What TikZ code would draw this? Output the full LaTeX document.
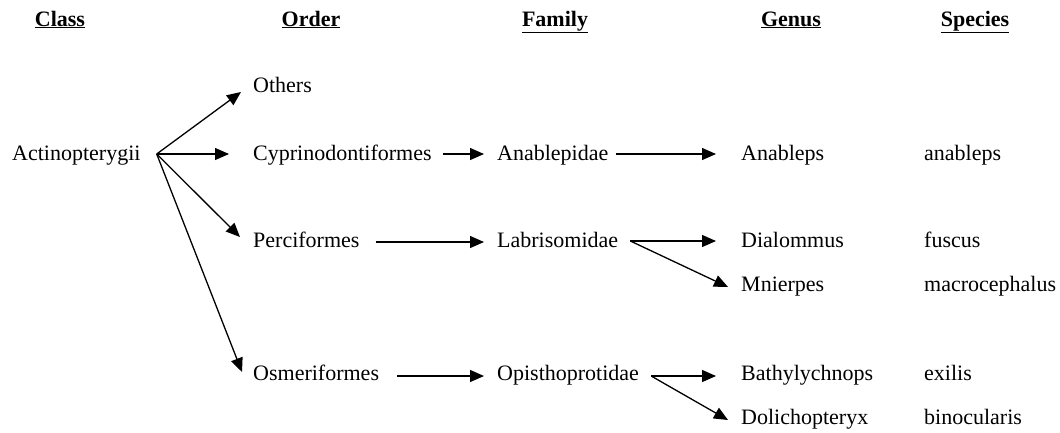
\documentclass[tikz,border=0pt]{standalone}
\usepackage{fontspec}
\setmainfont{Liberation Serif}
\usetikzlibrary{arrows.meta,calc}
\begin{document}
\begin{tikzpicture}[x=1pt,y=-1pt,
  lbl/.style={anchor=base west,inner sep=0pt,font=\fontsize{22}{26}\selectfont},
  hdr/.style={anchor=base,inner sep=0pt,font=\fontsize{22}{26}\selectfont\bfseries},
  arr/.style={line width=1.3pt,-{Triangle[length=14pt,width=12pt]}}]
\useasboundingbox (0,0) rectangle (1060,432);
% headers
\node[hdr] (hclass) at (60,26) {\underline{Class}};
\node[hdr] (horder) at (311,26) {\underline{Order}};
\node[hdr] (hfam) at (555,26) {\underline{Family}};
\node[hdr] (hgen) at (791,26) {\underline{Genus}};
\node[hdr] (hspe) at (975,26) {\underline{Species}};
% class
\node[lbl] (act) at (12,160) {Actinopterygii};
\coordinate (fan) at ($(act.base east)+(16,-6)$);
% orders
\node[lbl] (oth) at (253,92) {Others};
\node[lbl] (cyp) at (253,160) {Cyprinodontiformes};
\node[lbl] (per) at (253,247) {Perciformes};
\node[lbl] (osm) at (253,380) {Osmeriformes};
% families
\node[lbl] (anf) at (497,160) {Anablepidae};
\node[lbl] (lab) at (497,247) {Labrisomidae};
\node[lbl] (opi) at (497,380) {Opisthoprotidae};
% genera
\node[lbl] (ang) at (741,160) {Anableps};
\node[lbl] (dia) at (741,247) {Dialommus};
\node[lbl] (mni) at (741,291) {Mnierpes};
\node[lbl] (bat) at (741,380) {Bathylychnops};
\node[lbl] (dol) at (741,424) {Dolichopteryx};
% species
\node[lbl] (ans) at (924,160) {anableps};
\node[lbl] (fus) at (924,247) {fuscus};
\node[lbl] (mac) at (924,291) {macrocephalus};
\node[lbl] (exi) at (924,380) {exilis};
\node[lbl] (bin) at (924,424) {binocularis};
% class -> orders
\draw[arr] (fan) -- ($(oth.base west)+(-12,0)$);
\draw[arr] (fan) -- ($(cyp.base west)+(-24,-6)$);
\draw[arr] (fan) -- ($(per.base west)+(-13,-10)$);
\draw[arr] (fan) -- ($(osm.base west)+(-11,-8)$);
% orders -> families
\draw[arr] ($(cyp.base east)+(11,-6)$) -- ($(anf.base west)+(-13,-6)$);
\draw[arr] ($(per.base east)+(16,-5)$) -- ($(lab.base west)+(-13,-5)$);
\draw[arr] ($(osm.base east)+(18,-4)$) -- ($(opi.base west)+(-13,-4)$);
% families -> genera
\draw[arr] ($(anf.base east)+(7,-6)$) -- ($(ang.base west)+(-25,-6)$);
\coordinate (labo) at ($(lab.base east)+(12,-6)$);
\draw[arr] (labo) -- ($(dia.base west)+(-25,-6)$);
\draw[arr] (labo) -- ($(mni.base west)+(-13,-4)$);
\coordinate (opio) at ($(opi.base east)+(12,-4)$);
\draw[arr] (opio) -- ($(bat.base west)+(-25,-4)$);
\draw[arr] (opio) -- ($(dol.base west)+(-13,-4)$);
\end{tikzpicture}
\end{document}
